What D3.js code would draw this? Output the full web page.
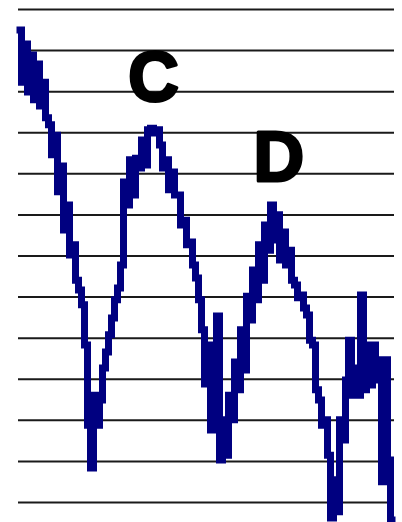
<!DOCTYPE html>
<html>
<head>
<meta charset="utf-8">
<script src="https://cdnjs.cloudflare.com/ajax/libs/d3/7.8.5/d3.min.js"></script>
<style>
  html, body { margin: 0; padding: 0; background: #fff; }
  svg { display: block; }
</style>
</head>
<body>
<div id="chart"></div>
<script>
// price levels, one sample per step
var closes = [
  114.9, 102.2, 111.5, 99.8, 108.8, 97.9, 106.6, 96.4, 102.2, 93.5,
  91.8, 84.5, 89.3, 75.5, 81.8, 66.2, 72.3, 60.1, 62.6, 54.0,
  51.6, 48.0, 38.2, 18.7, 8.3, 26.0, 18.7, 24.8, 32.6, 36.5,
  40.7, 44.8, 49.2, 52.1, 57.7, 77.9, 72.3, 83.3, 74.7, 83.7,
  81.3, 88.1, 82.0, 90.6, 91.0, 89.8, 90.6, 86.9, 81.3, 83.3,
  76.0, 80.3, 74.7, 74.7, 67.4, 68.6, 62.6, 63.3, 57.7, 54.5,
  49.2, 41.9, 28.7, 38.2, 17.5, 29.7, 45.3, 10.2, 20.0, 11.4,
  26.0, 20.0, 34.1, 27.3, 41.9, 32.1, 50.1, 44.3, 56.5, 49.2,
  62.6, 54.0, 67.4, 61.3, 72.3, 63.8, 69.9, 58.9, 65.7, 57.7,
  61.3, 54.0, 52.8, 49.7, 50.4, 47.2, 45.5, 39.4, 38.2, 27.3,
  24.8, 18.7, 20.0, 11.4, -3.9, 5.4, -2.4, 20.0, 15.1, 29.7,
  39.4, 26.0, 32.6, 26.0, 50.4, 27.3, 38.2, 28.5, 38.2, 29.7,
  34.6, 4.9, 34.6, 10.2, -4.4
];

// horizontal grid levels
var gridLevels = [0, 10, 20, 30, 40, 50, 60, 70, 80, 90, 100, 110, 120];

// peak labels: sample index and level of the text baseline
var peakNames = ["C", "D"];
var peakIndex = [44.5, 86.3];
var peakLevel = [97.6, 78.1];

var width = 402, height = 522;
var left = 18, right = 394;

var svg = d3.select("#chart")
  .append("svg")
  .attr("width", width)
  .attr("height", height);

var x = d3.scaleLinear()
  .domain([0, closes.length - 1])
  .range([20, 392]);

var y = d3.scaleLinear()
  .domain([0, 120])
  .range([502, 9]);

// grid lines from an axis with long ticks
var grid = svg.append("g")
  .attr("transform", "translate(" + left + ",0)")
  .call(d3.axisLeft(y)
    .tickValues(gridLevels)
    .tickSize(-(right - left))
    .tickFormat(""));
grid.select(".domain").remove();
grid.selectAll(".tick line")
  .attr("stroke", "#1a1a1a")
  .attr("stroke-width", 2);

// stepped so the thick pen gives the blocky look of the print
var line = d3.line()
  .curve(d3.curveStep)
  .x(function(d, i){ return x(i); })
  .y(function(d){ return y(d); });

svg.append("path")
  .datum(closes)
  .attr("d", line)
  .attr("fill", "none")
  .attr("stroke", "#000080")
  .attr("stroke-width", 7)
  .attr("stroke-linejoin", "miter")
  .attr("stroke-linecap", "square");

svg.selectAll("text.peak")
  .data(peakNames)
  .enter()
  .append("text")
  .attr("class", "peak")
  .text(function(d){ return d; })
  .attr("x", function(d, i){ return x(peakIndex[i]); })
  .attr("y", function(d, i){ return y(peakLevel[i]); })
  .attr("text-anchor", "middle")
  .attr("font-family", "'Liberation Sans', Arial, sans-serif")
  .attr("font-weight", "bold")
  .attr("font-size", 70)
  .attr("fill", "#000")
  .attr("stroke", "#000")
  .attr("stroke-width", 3)
  .attr("stroke-linejoin", "round");
</script>
</body>
</html>
